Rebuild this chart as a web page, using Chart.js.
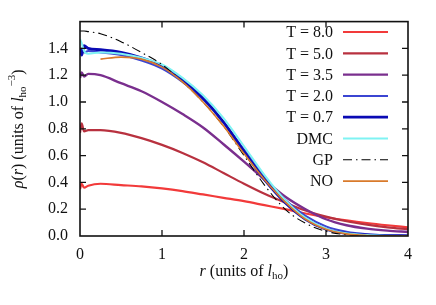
<!DOCTYPE html>
<html><head><meta charset="utf-8">
<script src="https://cdn.jsdelivr.net/npm/chart.js@4/dist/chart.umd.min.js"></script>
<style>html,body{margin:0;padding:0;background:#fff}#wrap{width:436px;height:305px}</style>
</head><body><div id="wrap"><canvas id="c" width="436" height="305"></canvas></div>
<script>
const labels = ["T = 8.0","T = 5.0","T = 3.5","T = 2.0","T = 0.7","DMC","GP","NO"];
const rGrid = [0,0.02,0.05,0.1,0.25,0.5,0.75,1.0,1.25,1.5,1.75,2.0,2.25,2.5,2.75,3.0,3.25,3.5,3.75,4.0];
const rhoT80 = [0.35,0.39,0.36,0.375,0.39,0.38,0.37,0.355,0.335,0.31,0.285,0.26,0.23,0.20,0.168,0.14,0.117,0.097,0.08,0.065];
const rhoT50 = [0.77,0.84,0.78,0.79,0.79,0.77,0.73,0.68,0.62,0.55,0.47,0.39,0.315,0.25,0.19,0.145,0.11,0.085,0.065,0.05];
const rhoT35 = [1.18,1.22,1.19,1.21,1.20,1.14,1.08,1.00,0.91,0.81,0.685,0.555,0.42,0.295,0.20,0.125,0.08,0.055,0.04,0.03];
const rhoT20 = [1.36,1.40,1.37,1.38,1.37,1.35,1.31,1.25,1.15,1.02,0.85,0.645,0.44,0.27,0.15,0.072,0.032,0.014,0.007,0.004];
const rhoT07 = [1.40,1.35,1.42,1.40,1.39,1.37,1.33,1.27,1.17,1.03,0.85,0.63,0.42,0.25,0.125,0.05,0.02,0.008,0.003,0.001];
const rhoDMC = [1.47,1.44,1.38,1.36,1.37,1.36,1.33,1.28,1.18,1.05,0.88,0.67,0.455,0.27,0.135,0.055,0.02,0.007,0.002,0.0];
const rhoGP  = [1.53,1.53,1.53,1.525,1.51,1.45,1.37,1.28,1.15,1.00,0.82,0.60,0.38,0.20,0.095,0.035,0.01,0.002,0.0,0.0];
const rNO   = [0.25,0.5,0.75,1.0,1.25,1.5,1.75,2.0,2.25,2.5,2.75,3.0,3.25,3.5,3.75,4.0];
const rhoNO = [1.32,1.335,1.32,1.26,1.15,1.00,0.82,0.615,0.42,0.255,0.125,0.05,0.016,0.004,0.001,0.0];
const xTicks = [0,1,2,3,4];
const yTicks = [0.0,0.2,0.4,0.6,0.8,1.0,1.2,1.4];

const colors = ["#f23a3a","#b8313f","#7a2f8e","#3b45d2","#0a0ab4","#7ff3f3","#000000","#d97a2b"];
const widths = [2.2,2.2,2.4,2.0,2.8,2.0,1.1,1.6];
const dashes = [[],[],[],[],[],[],[9,4,1.5,4],[]];
const series = [rhoT80,rhoT50,rhoT35,rhoT20,rhoT07,rhoDMC,rhoGP,rhoNO];

const datasets = series.map((s,i)=>{
  const xs = (i===7) ? rNO : rGrid;
  return {
    label: labels[i],
    data: s.map((v,j)=>({x:xs[j], y:v})),
    borderColor: colors[i], borderWidth: widths[i], borderDash: dashes[i],
    pointRadius: 0, fill:false, tension:0.35, cubicInterpolationMode:'monotone',
    order: 10 - i
  };
});

const SERIF = '"Liberation Serif","Times New Roman",serif';

function drawRuns(ctx, runs, cx, cy) {
  let total = 0;
  runs.forEach(r=>{ ctx.font = r.font; r.w = ctx.measureText(r.t).width; total += r.w; });
  let x = cx - total/2;
  ctx.textBaseline = 'middle'; ctx.textAlign = 'left';
  runs.forEach(r=>{ ctx.font = r.font; ctx.fillText(r.t, x, cy + (r.dy||0)); x += r.w; });
}

const framePlugin = {
  id:'frame',
  afterDraw(chart){
    const ctx = chart.ctx, a = chart.chartArea, xs = chart.scales.x, ys = chart.scales.y;
    ctx.save();
    ctx.strokeStyle = '#111'; ctx.lineWidth = 1.3;
    const tl = 6;
    ctx.beginPath();
    xTicks.forEach(v=>{ const p = xs.getPixelForValue(v);
      if (p>a.left+1 && p<a.right-1){ ctx.moveTo(p,a.bottom); ctx.lineTo(p,a.bottom-tl); ctx.moveTo(p,a.top); ctx.lineTo(p,a.top+tl);} });
    yTicks.forEach(v=>{ const p = ys.getPixelForValue(v);
      if (p<a.bottom-1){ ctx.moveTo(a.left,p); ctx.lineTo(a.left+tl,p); ctx.moveTo(a.right,p); ctx.lineTo(a.right-tl,p);} });
    ctx.stroke();
    ctx.lineWidth = 1.6;
    ctx.strokeRect(a.left, a.top, a.right-a.left, a.bottom-a.top);
    // legend
    const rowH = 21.3, y0 = 32, tx = 333, lx0 = 343, lx1 = 388;
    chart.data.datasets.forEach((d,i)=>{
      const y = y0 + i*rowH;
      ctx.fillStyle = '#111'; ctx.font = '16px '+SERIF; ctx.textAlign='right'; ctx.textBaseline='middle';
      ctx.fillText(d.label, tx, y+1);
      ctx.beginPath(); ctx.strokeStyle = d.borderColor; ctx.lineWidth = d.borderWidth; ctx.setLineDash(d.borderDash||[]);
      ctx.moveTo(lx0,y); ctx.lineTo(lx1,y); ctx.stroke(); ctx.setLineDash([]);
    });
    // axis titles
    ctx.fillStyle = '#111';
    const cx = (a.left+a.right)/2;
    drawRuns(ctx, [
      {t:'r', font:'italic 16px '+SERIF},
      {t:' (units of ', font:'16px '+SERIF},
      {t:'l', font:'italic 16px '+SERIF},
      {t:'ho', font:'11px '+SERIF, dy:4},
      {t:')', font:'16px '+SERIF}
    ], cx, 272);
    ctx.save();
    ctx.translate(19, (a.top+a.bottom)/2);
    ctx.rotate(-Math.PI/2);
    drawRuns(ctx, [
      {t:'ρ', font:'italic 16px '+SERIF},
      {t:'(', font:'16px '+SERIF},
      {t:'r', font:'italic 16px '+SERIF},
      {t:') (units of ', font:'16px '+SERIF},
      {t:'l', font:'italic 16px '+SERIF},
      {t:'ho', font:'11px '+SERIF, dy:4},
      {t:'−3', font:'11px '+SERIF, dy:-7},
      {t:')', font:'16px '+SERIF}
    ], 0, 0);
    ctx.restore();
    ctx.restore();
  }
};

new Chart(document.getElementById('c'), {
  type:'line',
  data:{ datasets },
  options:{
    responsive:false, animation:false, devicePixelRatio:1,
    layout:{ padding:{ left:0, right:28, top:15, bottom:0 } },
    plugins:{ legend:{display:false}, tooltip:{enabled:false} },
    scales:{
      x:{ type:'linear', min:0, max:4,
          afterBuildTicks(s){ s.ticks = xTicks.map(v=>({value:v})); },
          afterFit(s){ s.height = 69; },
          grid:{display:false, drawTicks:false, tickLength:0}, border:{display:false},
          ticks:{ color:'#111', font:{family:SERIF, size:16}, padding:9, maxRotation:0,
                  callback:(v)=>String(v) } },
      y:{ type:'linear', min:0, max:1.6,
          afterBuildTicks(s){ s.ticks = yTicks.map(v=>({value:v})); },
          afterFit(s){ s.width = 80; },
          grid:{display:false, drawTicks:false, tickLength:0}, border:{display:false},
          ticks:{ color:'#111', font:{family:SERIF, size:16}, padding:12,
                  callback:(v)=>Number(v).toFixed(1) } }
    }
  },
  plugins:[framePlugin]
});
</script></body></html>
